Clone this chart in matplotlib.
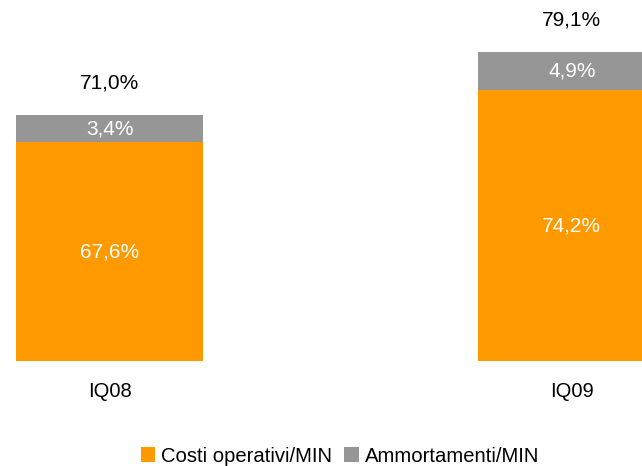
import numpy as np
import matplotlib.pyplot as plt

plt.rcParams['font.family'] = ['Liberation Sans', 'DejaVu Sans']

# data
categories = ['IQ08', 'IQ09']
costi = [67.6, 74.2]        # Costi operativi/MIN
ammort = [3.4, 4.9]         # Ammortamenti/MIN
totali = [71.0, 79.1]

orange = '#FF9900'
grey = '#969696'

def fmt(v):
    return ('%.1f%%' % v).replace('.', ',')

fig = plt.figure(figsize=(6.42, 4.66), dpi=100)
ax = fig.add_axes([0, 1 - 361 / 466, 1, 361 / 466])

x = np.arange(len(categories))
w = 0.405
ax.bar(x, costi, w, color=orange, label='Costi operativi/MIN')
ax.bar(x, ammort, w, bottom=costi, color=grey, label='Ammortamenti/MIN')

# axis does not start at zero in the original
ax.set_ylim(39.7, 85.7)
ax.set_xlim(-0.238, 1.152)

for i in range(len(categories)):
    ax.text(x[i], (39.7 + costi[i]) / 2, fmt(costi[i]), color='white',
            ha='center', va='center', fontsize=15)
    ax.text(x[i], costi[i] + ammort[i] / 2, fmt(ammort[i]), color='white',
            ha='center', va='center', fontsize=15)
    ax.annotate(fmt(totali[i]), (x[i], costi[i] + ammort[i]),
                xytext=(0, 23), textcoords='offset points',
                ha='center', va='center', fontsize=15, color='black')

ax.set_xticks(x)
ax.set_xticklabels(categories, fontsize=14.5)
ax.tick_params(axis='x', length=0, pad=15)
ax.set_yticks([])
for s in ax.spines.values():
    s.set_visible(False)

fig.legend(loc='center', bbox_to_anchor=(340 / 642, 1 - 456 / 466), ncol=2,
           frameon=False, fontsize=14.6, handlelength=0.7, handleheight=0.7,
           handletextpad=0.3, columnspacing=0.6, borderaxespad=0)

fig.savefig('out.png', dpi=100)
